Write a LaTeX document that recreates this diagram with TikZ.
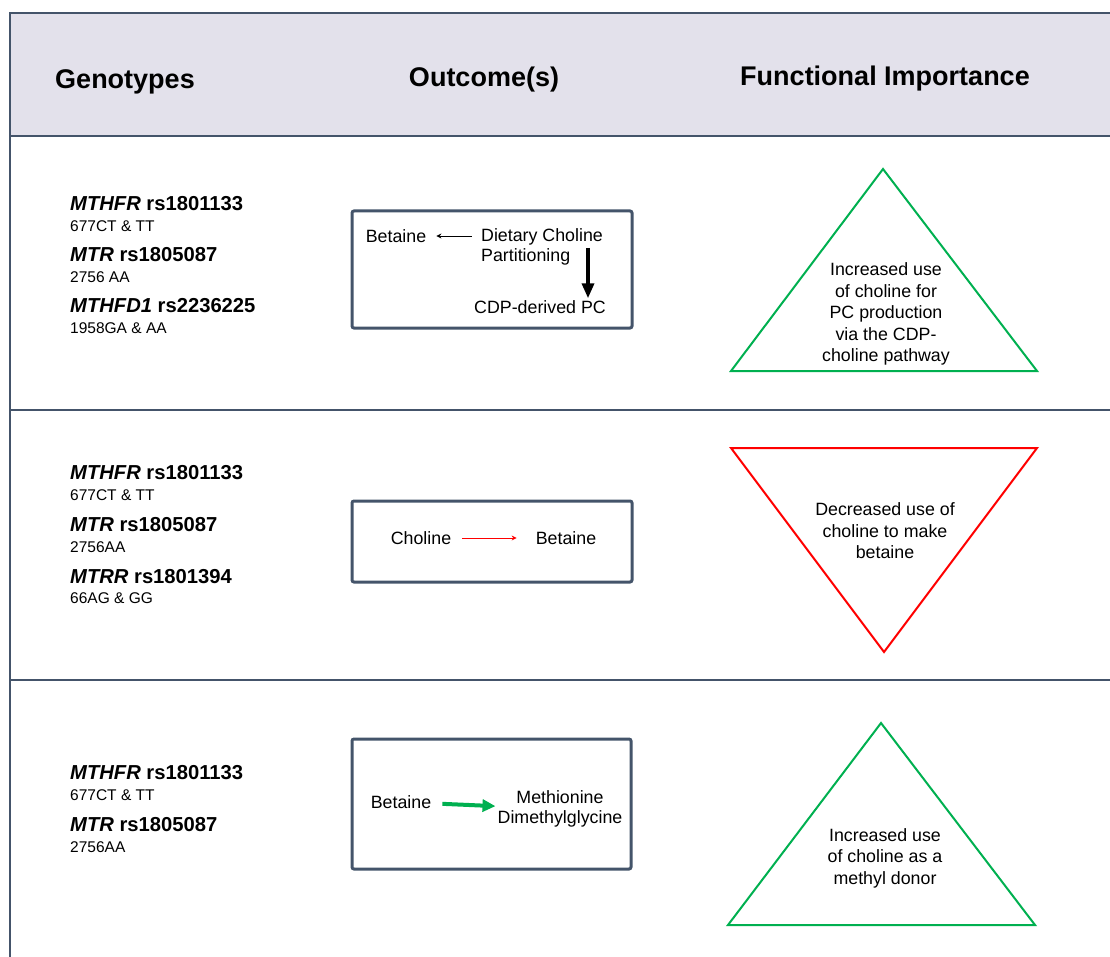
\documentclass[tikz,border=0pt]{standalone}
\usepackage{fontspec}
\setmainfont{Liberation Sans}
\usetikzlibrary{arrows.meta}
\definecolor{frame}{HTML}{44546A}
\definecolor{head}{HTML}{E3E1EB}
\definecolor{up}{HTML}{00B050}
\definecolor{down}{HTML}{FF0000}

\begin{document}
\begin{tikzpicture}[x=1pt, y=-1pt,
    every node/.style={inner sep=2pt, font=\fontsize{17.8}{19.5}\selectfont},
    title/.style={font=\fontsize{27}{32}\selectfont\bfseries},
    gene/.style={anchor=west, font=\fontsize{20.2}{24}\selectfont\bfseries},
    allele/.style={anchor=west, font=\fontsize{15.5}{18}\selectfont},
    outbox/.style={draw=frame, line width=3pt, rounded corners=2pt},
    rule/.style={draw=frame, line width=2pt},
    tri/.style={line width=2pt, line join=miter},
    note/.style={align=center, font=\fontsize{17.8}{21.5}\selectfont}]
    \useasboundingbox (0,0) rectangle (1110,957);

    \fill[head] (10,13) rectangle (1110,136);
    \draw[rule] (1110,13) -- (10,13) -- (10,957);
    \foreach \y in {136,410,680}
        \draw[rule] (10,\y) -- (1110,\y);

    \node[title] (gen) at (125,82) {Genotypes};
    \node[title] (out) at (484,80) {Outcome(s)};
    \node[title] (fun) at (885,79) {Functional Importance};

    \node[gene] (g1a) at (68,204) {\textit{MTHFR} rs1801133};
    \node[allele] (a1a) at (68,226) {677CT \& TT};
    \node[gene] (g1b) at (68,255) {\textit{MTR} rs1805087};
    \node[allele] (a1b) at (68,277) {2756 AA};
    \node[gene] (g1c) at (68,306) {\textit{MTHFD1} rs2236225};
    \node[allele] (a1c) at (68,328) {1958GA \& AA};

    \node[gene] (g2a) at (68,473) {\textit{MTHFR} rs1801133};
    \node[allele] (a2a) at (68,495) {677CT \& TT};
    \node[gene] (g2b) at (68,525) {\textit{MTR} rs1805087};
    \node[allele] (a2b) at (68,547) {2756AA};
    \node[gene] (g2c) at (68,577) {\textit{MTRR} rs1801394};
    \node[allele] (a2c) at (68,598) {66AG \& GG};

    \node[gene] (g3a) at (68,773) {\textit{MTHFR} rs1801133};
    \node[allele] (a3a) at (68,795) {677CT \& TT};
    \node[gene] (g3b) at (68,825) {\textit{MTR} rs1805087};
    \node[allele] (a3b) at (68,847) {2756AA};

    \draw[outbox] (352,211) rectangle (632,328);
    \node (bet1) at (396,236) {Betaine};
    \node[align=left] (dc) at (542,247) {Dietary Choline\\Partitioning};
    \node (cdp) at (540,307) {CDP-derived PC};
    \coordinate (split) at (588,248);
    \draw[-{Stealth[length=5pt,width=5pt]}, line width=0.9pt]
        ([xshift=-7pt]dc.west |- bet1) -- ([xshift=8pt]bet1.east);
    \draw[-{Triangle[length=15pt,width=12pt]}, line width=3.5pt]
        (split) -- (split |- cdp.north);

    \draw[outbox] (352,501) rectangle (632,582);
    \node (cho) at (421,538) {Choline};
    \node (bet2) at (566,538) {Betaine};
    \draw[down, -{Stealth[length=5pt,width=5pt]}, line width=1pt,
        shorten <=9pt, shorten >=17pt] (cho) -- (bet2);

    \draw[outbox] (352,739) rectangle (631,869);
    \node (bet3) at (401,802) {Betaine};
    \node[align=center] (met) at (560,809) {Methionine\\Dimethylglycine};
    \draw[up, -{Triangle[length=13pt,width=12pt]}, line width=4pt,
        shorten <=9pt] (bet3) -- (met);

    \draw[up, tri] (883,169) -- (1037,371) -- (731,371) -- cycle;
    \node[note] (t1) at (886,314) {Increased use\\of choline for\\PC production\\via the CDP-\\choline pathway};
    \draw[down, tri] (731,448) -- (1037,448) -- (884,652) -- cycle;
    \node[note] (t2) at (885,531) {Decreased use of\\choline to make\\betaine};
    \draw[up, tri] (881,723) -- (1035,925) -- (728,925) -- cycle;
    \node[note] (t3) at (885,858) {Increased use\\of choline as a\\methyl donor};
\end{tikzpicture}
\end{document}
